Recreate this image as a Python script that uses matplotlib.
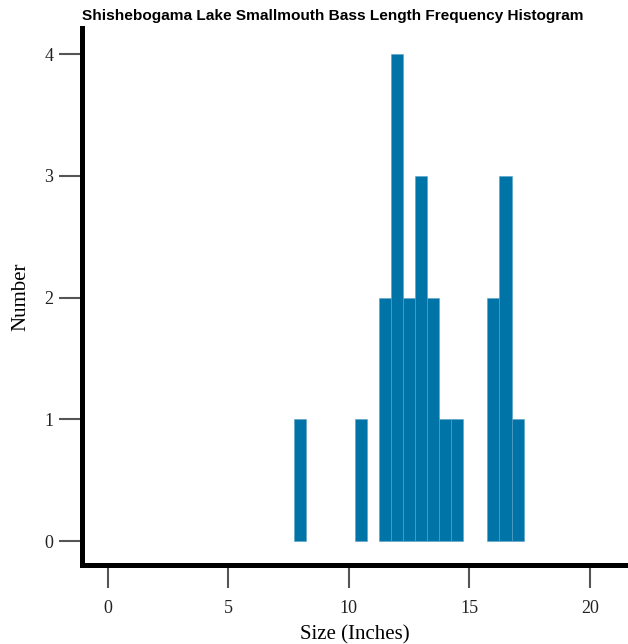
import matplotlib.pyplot as plt

# bin centres (inches) and fish counts
sizes = [8.0, 10.5, 11.5, 12.0, 12.5, 13.0, 13.5, 14.0, 14.5, 16.0, 16.5, 17.0]
counts = [1, 1, 2, 4, 2, 3, 2, 1, 1, 2, 3, 1]
x_ticks = [0, 5, 10, 15, 20]
y_ticks = [0, 1, 2, 3, 4]

fig = plt.figure(figsize=(6.28, 6.44), dpi=100)
ax = fig.add_axes([0.1306, 0.1227, 0.8694, 0.8338])

ax.bar(sizes, counts, width=0.5, color='#0074a6', edgecolor='#5a9fc4', linewidth=0.4)

ax.set_xlim(-1.057, 21.58)
ax.set_ylim(-0.197, 4.216)
ax.set_xticks(x_ticks)
ax.set_yticks(y_ticks)

for side in ['top', 'right']:
	ax.spines[side].set_visible(False)
for side in ['left', 'bottom']:
	ax.spines[side].set_linewidth(3.6)
	ax.spines[side].set_color('black')

ax.tick_params(axis='both', direction='out', length=16.5, width=1.5, color='#555555',
	labelsize=13, labelcolor='#222222')
ax.tick_params(axis='x', pad=9)
ax.tick_params(axis='y', pad=4)
for lab in ax.get_xticklabels() + ax.get_yticklabels():
	lab.set_fontfamily('Liberation Serif')

ax.set_xlabel("Size (Inches)", fontfamily='Liberation Serif', fontsize=15, labelpad=6)
ax.set_ylabel("Number", fontfamily='Liberation Serif', fontsize=15, labelpad=10)
ax.set_title("Shishebogama Lake Smallmouth Bass Length Frequency Histogram",
	loc='left', fontfamily='Liberation Sans', fontweight='bold', fontsize=11.1, pad=6)

fig.savefig("out.png", dpi=100)
